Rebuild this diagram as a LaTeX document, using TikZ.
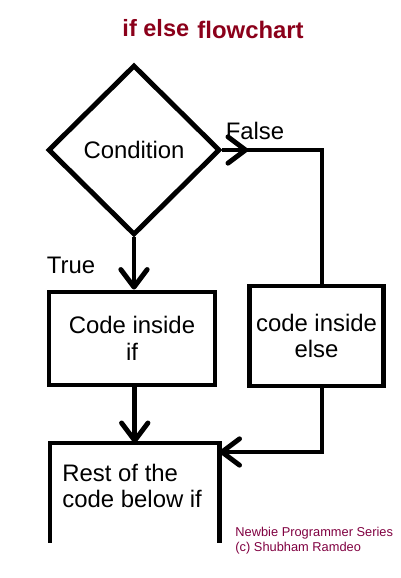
\documentclass[tikz,border=0pt]{standalone}
\usepackage{fontspec}
\setmainfont{Liberation Sans}
\usetikzlibrary{shapes.geometric,arrows.meta}
\definecolor{titlered}{RGB}{139,0,26}
\definecolor{signred}{RGB}{128,0,64}

\begin{document}
\begin{tikzpicture}[x=0.02cm, y=-0.02cm,
    line width=2.8pt,
    txt/.style={font=\fontsize{13.6}{15}\selectfont, align=center},
    box/.style={draw, rectangle, inner sep=0pt, txt},
    barb/.style={-{Straight Barb[length=10pt, width=15pt, round]}}]
    \useasboundingbox (0,0) rectangle (400,578);

    % Draw title
    \node[anchor=base west, inner sep=0pt, text=titlered, font=\bfseries\fontsize{13.4}{15}\selectfont] (title1) at (120,36) {if else};
    \node[anchor=base west, inner sep=0pt, text=titlered, font=\bfseries\fontsize{13.6}{15}\selectfont] (title2) at (195,38) {flowchart};

    % Draw decision
    \node[draw, diamond, inner sep=0pt, minimum width=3.44cm, minimum height=3.4cm, txt] (cond) at (134,150) {Condition};

    % Draw boxes
    \node[box, minimum width=3.32cm, minimum height=1.86cm] (ifbox) at (132,338.5) {Code inside\\if};
    \node[box, minimum width=2.68cm, minimum height=2cm] (elsebox) at (316.5,336) {code inside\\else};
    \node[rectangle, inner sep=0pt, outer sep=0pt, minimum width=3.39cm, minimum height=2cm] (rest) at (134.75,493) {};
    \draw (rest.south west) -- (rest.north west) -- (rest.north east) -- (rest.south east);
    \node[txt, align=left, anchor=west, inner sep=0pt] (resttext) at (60,486) {Rest of the\\code below if};

    % Draw labels
    \node[txt] (falselbl) at (255,131) {False};
    \node[txt] (truelbl) at (71,265) {True};

    % Draw connectors
    \coordinate (fmark) at (248,150);
    \coordinate (fcorner) at (322,150);
    \coordinate (rcorner) at (322,452);
    \draw (cond.east) -- (fcorner) -- (fcorner |- elsebox.north);
    \draw[barb] (cond.east) -- (fmark);
    \draw[barb] (cond.south) -- (cond.south |- ifbox.north);
    \draw[barb] (rest.north |- ifbox.south) -- (rest.north);
    \draw[barb] (rcorner |- elsebox.south) -- (rcorner) -- (rest.east |- rcorner);

    % Draw footer
    \node[anchor=west, inner sep=0pt, align=left, text=signred, font=\fontsize{7.3}{8.5}\selectfont] (sign) at (233,541) {Newbie Programmer Series\\(c) Shubham Ramdeo};
\end{tikzpicture}
\end{document}
